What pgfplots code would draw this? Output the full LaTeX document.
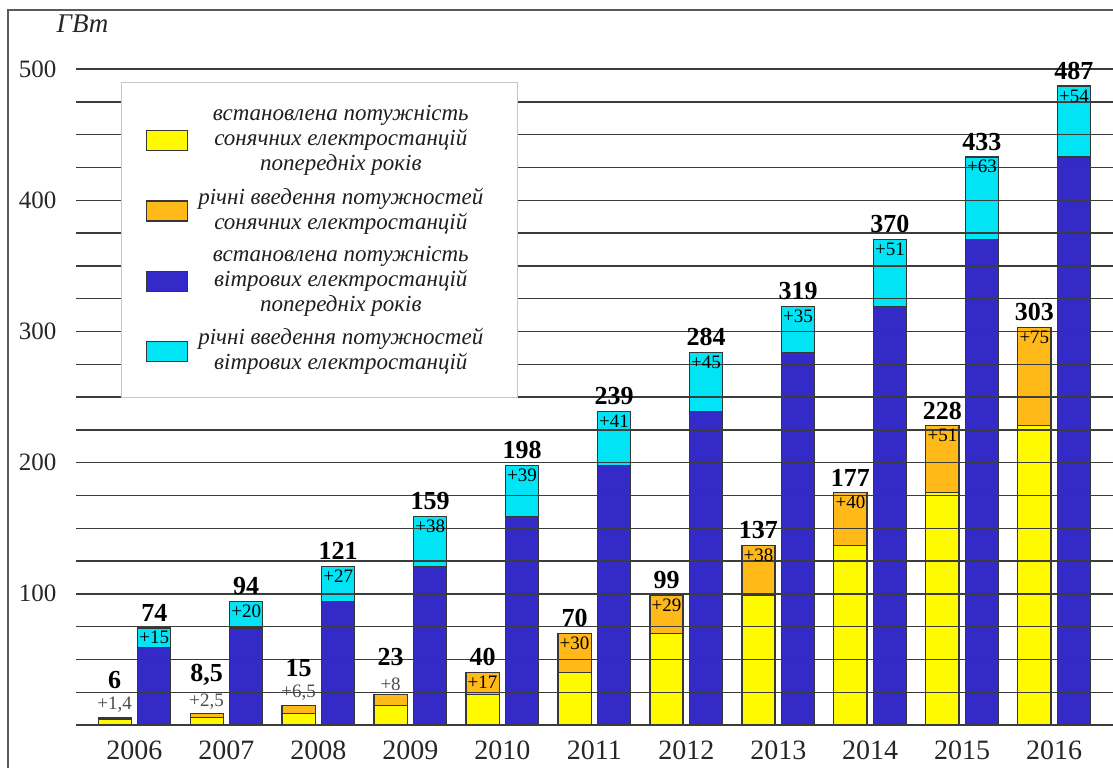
\documentclass[border=0pt]{standalone}
\usepackage{fontspec}
\setmainfont{Liberation Serif}
\usepackage{pgfplots}
\usepackage{pgfplotstable}
\pgfplotsset{compat=1.18}
\pgfkeys{/pgf/number format/assume math mode=true}
\definecolor{cY}{RGB}{255,250,0}
\definecolor{cO}{RGB}{255,185,25}
\definecolor{cB}{RGB}{52,42,200}
\definecolor{cC}{RGB}{0,228,245}
\definecolor{cE}{RGB}{55,55,55}
\definecolor{cG}{RGB}{60,60,60}
\definecolor{cF}{RGB}{90,90,90}
\newcommand\totfont{\fontsize{13}{13}\selectfont\bfseries}
\newcommand\incfont{\fontsize{9.5}{9.5}\selectfont}
\newcommand\legtext[1]{\parbox{153pt}{\centering\fontsize{11.5}{12.5}\selectfont\itshape #1}}

\pgfplotstableread{
x  xs     xw     sbase sinc stot wbase winc wtot
0  -0.215 0.215  4.6   1.4  6    59    15   74
1  0.785  1.215  6     2.5  8.5  74    20   94
2  1.785  2.215  8.5   6.5  15   94    27   121
3  2.785  3.215  15    8    23   121   38   159
4  3.785  4.215  23    17   40   159   39   198
5  4.785  5.215  40    30   70   198   41   239
6  5.785  6.215  70    29   99   239   45   284
7  6.785  7.215  99    38   137  284   35   319
8  7.785  8.215  137   40   177  319   51   370
9  8.785  9.215  177   51   228  370   63   433
10 9.785  10.215 228   75   303  433   54   487
}\data

\begin{document}
\begin{tikzpicture}
\useasboundingbox (-38pt,-21pt) rectangle (518.5pt,362.5pt);
\draw[color=cF, line width=0.75pt] (-34pt,-30pt) -- (-34pt,357.5pt) -- (530pt,357.5pt);
\begin{axis}[
  at={(0pt,0pt)}, anchor=south west,
  scale only axis, width=518.5pt, height=328pt,
  xmin=-0.636, xmax=10.64, ymin=0, ymax=500,
  mybar/.style={ybar, bar shift=0pt, bar width=0.36, draw=cE, line width=0.6pt},
  axis line style={draw=none}, tick style={draw=none},
  major tick length=0pt, minor tick length=0pt,
  xtick={0,1,2,3,4,5,6,7,8,9,10},
  xticklabels={2006,2007,2008,2009,2010,2011,2012,2013,2014,2015,2016},
  ytick={100,200,300,400,500},
  minor ytick={0,25,50,75,125,150,175,225,250,275,325,350,375,425,450,475},
  ymajorgrids, yminorgrids,
  major grid style={cG, line width=0.7pt},
  minor grid style={cG, line width=0.7pt},
  axis on top,
  clip=false,
  xticklabel style={font=\fontsize{14}{14}\selectfont, text=black!85, yshift=-4.3pt},
  yticklabel style={font=\fontsize{12.5}{12.5}\selectfont, text=black!85, xshift=-6.3pt},
  legend image code/.code={\draw[#1,/tikz/.cd, draw=cE, line width=0.6pt] (0pt,-5pt) rectangle (20.5pt,5pt);},
  legend cell align=center,
  legend style={at={(0.0434,0.980)}, anchor=north west, draw=black!22, line width=0.6pt,
    fill=white, inner xsep=12pt, inner ysep=11.5pt, column sep=0pt, row sep=6pt,
    nodes={inner sep=0pt, text depth=, text=black!88}},
]
\addlegendimage{fill=cY}
\addlegendentry{\legtext{встановлена потужність\\сонячних електростанцій\\попередніх років}}
\addlegendimage{fill=cO}
\addlegendentry{\legtext{річні введення потужностей\\сонячних електростанцій}}
\addlegendimage{fill=cB}
\addlegendentry{\legtext{встановлена потужність\\вітрових електростанцій\\попередніх років}}
\addlegendimage{fill=cC}
\addlegendentry{\legtext{річні введення потужностей\\вітрових електростанцій}}

% bars: totals first (increment colour), then base on top
\addplot[mybar, fill=cO, forget plot] table[x=xs, y=stot] {\data};
\addplot[mybar, fill=cY, forget plot] table[x=xs, y=sbase] {\data};
\addplot[mybar, fill=cC, forget plot] table[x=xw, y=wtot] {\data};
\addplot[mybar, fill=cB, forget plot] table[x=xw, y=wbase] {\data};

% solar increment labels inside (2010-2016)
\addplot[mybar, draw=none, fill=none, forget plot, restrict x to domain=3.5:11,
  point meta=explicit, nodes near coords={\pgfmathprintnumber[showpos]{\pgfplotspointmeta}},
  every node near coord/.append style={font=\incfont, text=black, inner sep=2pt, yshift=-10.4pt}]
  table[x=xs, y=stot, meta=sinc] {\data};
% solar increment labels above (2006-2009)
\addplot[mybar, draw=none, fill=none, forget plot, restrict x to domain=-1:3.5,
  point meta=explicit, nodes near coords={\pgfmathprintnumber[showpos,use comma]{\pgfplotspointmeta}},
  every node near coord/.append style={font=\incfont, text=black!70, inner sep=2pt}]
  table[x=xs, y=stot, meta=sinc] {\data};
% solar totals
\addplot[mybar, draw=none, fill=none, forget plot, restrict x to domain=3.5:11,
  point meta=explicit, nodes near coords={\pgfmathprintnumber{\pgfplotspointmeta}},
  every node near coord/.append style={font=\totfont, text=black, inner sep=3pt}]
  table[x=xs, y=stot, meta=stot] {\data};
\addplot[mybar, draw=none, fill=none, forget plot, restrict x to domain=-1:3.5,
  point meta=explicit, nodes near coords={\pgfmathprintnumber[use comma]{\pgfplotspointmeta}},
  every node near coord/.append style={font=\totfont, text=black, inner sep=3pt, yshift=11pt}]
  table[x=xs, y=stot, meta=stot] {\data};
% wind increment labels
\addplot[mybar, draw=none, fill=none, forget plot,
  point meta=explicit, nodes near coords={\pgfmathprintnumber[showpos]{\pgfplotspointmeta}},
  every node near coord/.append style={font=\incfont, text=black, inner sep=2pt, yshift=-10.4pt}]
  table[x=xw, y=wtot, meta=winc] {\data};
% wind totals
\addplot[mybar, draw=none, fill=none, forget plot,
  point meta=explicit, nodes near coords={\pgfmathprintnumber{\pgfplotspointmeta}},
  every node near coord/.append style={font=\totfont, text=black, inner sep=3pt}]
  table[x=xw, y=wtot, meta=wtot] {\data};
\end{axis}
\node[font=\fontsize{13.5}{13.5}\selectfont\itshape, anchor=base, text=black!85] at (3.25pt,346pt) {ГВт};
\end{tikzpicture}
\end{document}
